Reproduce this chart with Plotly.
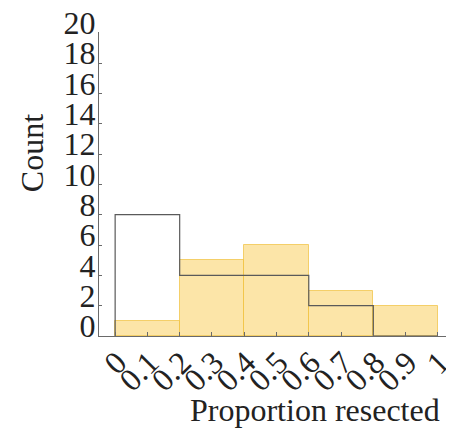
import plotly.graph_objects as go

# Data
bin_edges = [0.0, 0.2, 0.4, 0.6, 0.8, 1.0]
filled_counts = [1, 5, 6, 3, 2]      # yellow histogram
outline_counts = [8, 4, 4, 2, 0]     # open (outlined) histogram
y_ticks = [0, 2, 4, 6, 8, 10, 12, 14, 16, 18, 20]
x_ticks = [0, 0.1, 0.2, 0.3, 0.4, 0.5, 0.6, 0.7, 0.8, 0.9, 1.0]
x_tick_labels = ["0", "0.1", "0.2", "0.3", "0.4", "0.5", "0.6", "0.7", "0.8", "0.9", "1"]

centers = [(bin_edges[i] + bin_edges[i + 1]) / 2 for i in range(len(filled_counts))]
widths = [bin_edges[i + 1] - bin_edges[i] for i in range(len(filled_counts))]

FONT = "Liberation Serif, Times New Roman, serif"
AXIS = "#6a6a6a"

fig = go.Figure()

# outline histogram as a step line
step_x = [bin_edges[0]] + bin_edges
step_y = [0] + outline_counts + [0]
fig.add_trace(go.Scatter(
    x=step_x, y=step_y, mode="lines", line_shape="hv",
    line=dict(color="#5a5a5a", width=1.2), showlegend=False, hoverinfo="skip"))

# filled histogram
fig.add_trace(go.Bar(
    x=centers, y=filled_counts, width=widths,
    marker=dict(color="rgba(249,203,81,0.5)",
                line=dict(color="rgba(240,195,70,0.75)", width=1)),
    showlegend=False))

# the page body has an 8px margin, so the figure is 8px smaller than the window
fig.update_layout(
    width=446, height=423,
    margin=dict(l=91, r=0, t=24, b=95),
    paper_bgcolor="white", plot_bgcolor="white",
    font=dict(family=FONT, color="#222222"),
    bargap=0,
    xaxis=dict(range=[-0.05, 1.05], tickmode="array", tickvals=x_ticks,
               ticktext=x_tick_labels, tickangle=-45, automargin=False,
               tickfont=dict(family=FONT, size=32, color="#222222"),
               ticklabelstandoff=-6, ticklabelshift=2, ticklabeloverflow="allow",
               ticks="inside", ticklen=4, tickcolor=AXIS,
               showline=True, linecolor=AXIS, linewidth=1,
               showgrid=False, zeroline=False),
    yaxis=dict(range=[0, 20.05], tickmode="array", tickvals=y_ticks,
               tickfont=dict(family=FONT, size=32, color="#222222"),
               ticklabelshift=-10, ticklabelstandoff=-4, ticklabeloverflow="allow",
               automargin=False,
               ticks="inside", ticklen=3, tickcolor=AXIS,
               showline=True, linecolor=AXIS, linewidth=1,
               showgrid=False, zeroline=False),
    annotations=[
        dict(text="Proportion resected", xref="paper", yref="paper",
             x=0.608, y=-0.243, xanchor="center", yanchor="middle",
             showarrow=False, font=dict(family=FONT, size=32, color="#222222")),
        dict(text="Count", xref="paper", yref="paper",
             x=-0.19, y=0.60, xanchor="center", yanchor="middle", textangle=-90,
             showarrow=False, font=dict(family=FONT, size=32, color="#222222")),
    ],
)

fig.write_html("out.html")
